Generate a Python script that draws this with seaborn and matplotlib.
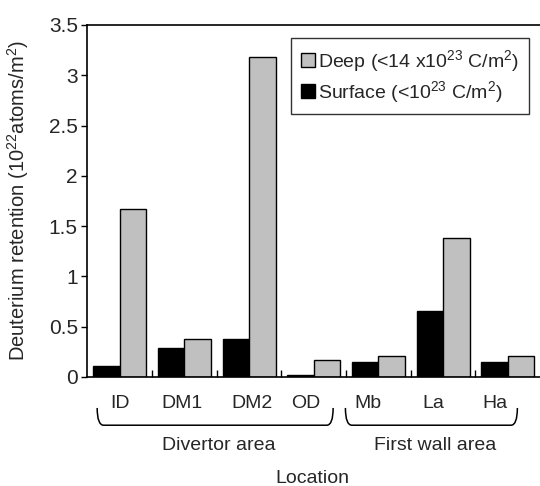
import matplotlib
matplotlib.use("Agg")
import matplotlib.pyplot as plt
import matplotlib.transforms as mtransforms
from matplotlib.patches import Patch
from matplotlib.path import Path
from matplotlib.patches import PathPatch
from matplotlib.ticker import FuncFormatter, FixedLocator
import seaborn as sns
import pandas as pd

locations = ["ID", "DM1", "DM2", "OD", "Mb", "La", "Ha"]
surface = [0.11, 0.29, 0.38, 0.02, 0.15, 0.66, 0.15]
deep = [1.67, 0.38, 3.18, 0.17, 0.21, 1.38, 0.21]
series_names = ["Surface (<10$^{23}$ C/m$^{2}$)", "Deep (<14 x10$^{23}$ C/m$^{2}$)"]
groups = [("Divertor area", -0.35, 3.30), ("First wall area", 3.49, 6.15)]

sns.set_theme(style="white")
plt.rcParams["font.family"] = ["Liberation Sans", "DejaVu Sans"]
plt.rcParams["mathtext.fontset"] = "custom"
plt.rcParams["mathtext.rm"] = "Liberation Sans"
plt.rcParams["mathtext.it"] = "Liberation Sans"
plt.rcParams["mathtext.default"] = "regular"

df = pd.DataFrame({
    "Location": locations * 2,
    "Value": surface + deep,
    "Series": [series_names[0]] * len(locations) + [series_names[1]] * len(locations),
})

fig = plt.figure(figsize=(5.4, 4.86), dpi=100)
ax = fig.add_axes([0.162, 0.2243, 0.838, 0.7243])

colors = {series_names[0]: "#000000", series_names[1]: "#c0c0c0"}
sns.barplot(data=df, x="Location", y="Value", hue="Series", order=locations,
            hue_order=series_names, palette=colors, width=0.82,
            edgecolor="black", linewidth=1.0, saturation=1, ax=ax, legend=False)

ax.set_xlim(-0.5, len(locations) - 0.5)
ax.set_ylim(0, 3.5)
ax.yaxis.set_major_locator(FixedLocator([0, 0.5, 1, 1.5, 2, 2.5, 3, 3.5]))
ax.yaxis.set_major_formatter(FuncFormatter(lambda v, p: "%g" % v))
ax.tick_params(axis="y", direction="out", length=4, width=1, labelsize=15, pad=3, left=True, color="black")
ax.tick_params(axis="x", which="major", length=0, labelsize=14, pad=13)
ax.set_xticks(range(len(locations)))
ax.set_xticklabels(locations)
ax.set_xticks([i + 0.5 for i in range(len(locations) - 1)], minor=True)
ax.tick_params(axis="x", which="minor", direction="in", length=5, width=1, bottom=True, color="black")

# small horizontal nudges of the category labels, as in the original layout
label_shift_px = [0, -2, 3, -8, -10, -10, -13]
for lab, dx in zip(ax.get_xticklabels(), label_shift_px):
    lab.set_transform(lab.get_transform() + mtransforms.ScaledTranslation(dx / 100, 0, fig.dpi_scale_trans))

for s in ["left", "bottom", "top"]:
    ax.spines[s].set_visible(True)
    ax.spines[s].set_color("black")
    ax.spines[s].set_linewidth(1.2)
ax.spines["right"].set_visible(False)

ax.set_xlabel("Location", fontsize=14)
ax.xaxis.set_label_coords(0.498, -0.287)
ax.xaxis.label.set_va("center")
ax.set_ylabel("Deuterium retention (10$^{22}$atoms/m$^{2}$)", fontsize=14.5)
ax.yaxis.set_label_coords(-0.154, 0.5)
ax.yaxis.label.set_va("center")

# legend
handles = [Patch(facecolor="#c0c0c0", edgecolor="black", linewidth=1.0, label=series_names[1]),
           Patch(facecolor="#000000", edgecolor="black", linewidth=1.0, label=series_names[0])]
leg = ax.legend(handles=handles, loc="upper right", bbox_to_anchor=(0.976, 0.962),
                fontsize=14, frameon=True, fancybox=False, handlelength=0.75,
                handleheight=0.75, handletextpad=0.15, borderpad=0.5, labelspacing=0.25,
                borderaxespad=0)
leg.get_frame().set_edgecolor("black")
leg.get_frame().set_linewidth(1.0)

# group braces below axis
trans = mtransforms.blended_transform_factory(ax.transData, ax.transAxes)
y_top = -0.088
y_bot = -0.137
r = 0.05
for name, x0, x1 in groups:
    verts = [(x0, y_top), (x0, y_bot), (x0 + r * 2, y_bot),
             (x1 - r * 2, y_bot), (x1, y_bot), (x1, y_top)]
    codes = [Path.MOVETO, Path.CURVE3, Path.CURVE3, Path.LINETO, Path.CURVE3, Path.CURVE3]
    patch = PathPatch(Path(verts, codes), facecolor="none", edgecolor="black",
                      linewidth=1.1, transform=trans, clip_on=False)
    ax.add_patch(patch)
    ax.text((x0 + x1) / 2 + 0.05, -0.195, name, transform=trans, ha="center", va="center", fontsize=14)

fig.savefig("out.png", dpi=100)
